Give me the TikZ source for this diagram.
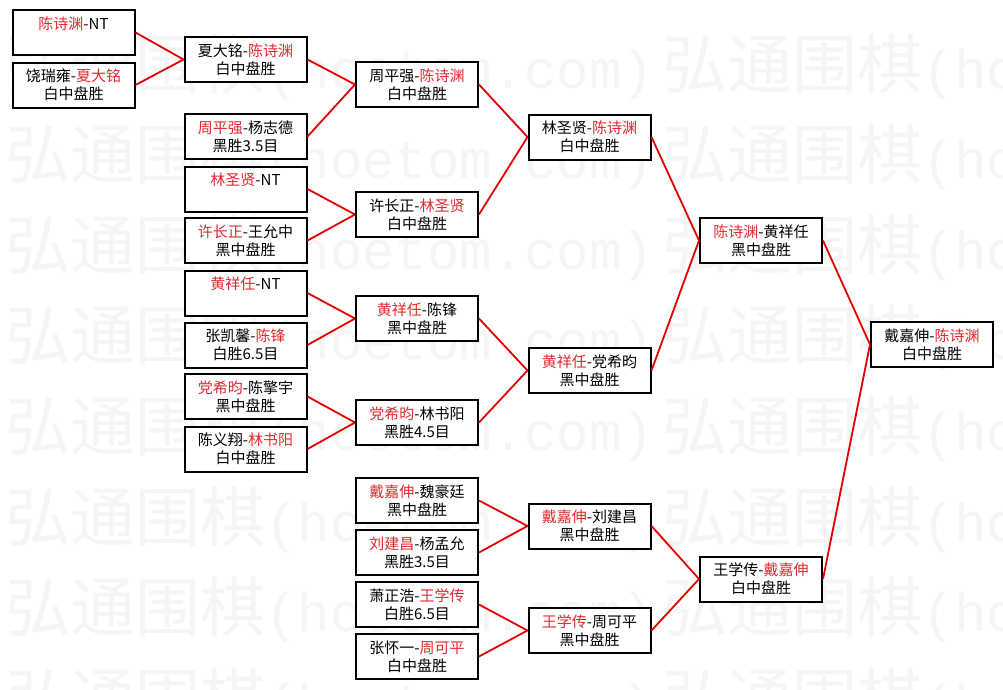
\documentclass[tikz,border=0pt]{standalone}
\usepackage{fontspec}
\newfontfamily\cjk{Noto Sans CJK SC}
\newfontfamily\wmono{Liberation Mono}
\definecolor{nred}{RGB}{228,40,48}
\definecolor{lred}{RGB}{226,0,0}
\definecolor{wmark}{RGB}{245,245,245}
\newcommand\rn[1]{\textcolor{nred}{#1}}
\newcommand\wmpart{{\cjk\fontsize{65}{65}\selectfont 弘通围棋}{\wmono\fontsize{54}{54}\selectfont (hoetom.com)}\hspace{8pt}}
\tikzset{
  mbox/.style={draw=black, line width=2pt, fill=white, minimum width=122pt,
    minimum height=45pt, inner sep=0pt, align=center,
    font=\cjk\fontsize{15}{18}\selectfont},
  link/.style={draw=lred, line width=1.8pt},
  wm/.style={anchor=base west, inner sep=0pt, text=wmark}
}
\begin{document}
\begin{tikzpicture}[x=1pt,y=-1pt]
\useasboundingbox (0,0) rectangle (1003,689);
\fill[white] (0,0) rectangle (1003,689);
\begin{scope}
\clip (0,0) rectangle (1003,689);
\foreach \k [count=\i] in {0,...,7}{
  \node[wm] (wm\i) at (5,{63+90.6*\k+25}) {\wmpart\wmpart};
}
\end{scope}
% column 1
\node[mbox] (a1) at (73.5,32.5) {\rn{陈诗渊}-NT\\\phantom{白中盘胜}};
\node[mbox] (a2) at (73.5,85) {饶瑞雍-\rn{夏大铭}\\白中盘胜};
% column 2
\node[mbox] (b1) at (245.5,59.5) {夏大铭-\rn{陈诗渊}\\白中盘胜};
\node[mbox] (b2) at (245.5,136.5) {\rn{周平强}-杨志德\\黑胜3.5目};
\node[mbox] (b3) at (245.5,189) {\rn{林圣贤}-NT\\\phantom{白中盘胜}};
\node[mbox] (b4) at (245.5,240.5) {\rn{许长正}-王允中\\黑中盘胜};
\node[mbox] (b5) at (245.5,293) {\rn{黄祥任}-NT\\\phantom{白中盘胜}};
\node[mbox] (b6) at (245.5,345) {张凯馨-\rn{陈锋}\\白胜6.5目};
\node[mbox] (b7) at (245.5,396.5) {\rn{党希昀}-陈擎宇\\黑中盘胜};
\node[mbox] (b8) at (245.5,449) {陈义翔-\rn{林书阳}\\白中盘胜};
% column 3
\node[mbox] (c1) at (417,84.5) {周平强-\rn{陈诗渊}\\白中盘胜};
\node[mbox] (c2) at (417,214.5) {许长正-\rn{林圣贤}\\白中盘胜};
\node[mbox] (c3) at (417,318.5) {\rn{黄祥任}-陈锋\\黑中盘胜};
\node[mbox] (c4) at (417,422.5) {\rn{党希昀}-林书阳\\黑胜4.5目};
\node[mbox] (c5) at (417,500.5) {\rn{戴嘉伸}-魏豪廷\\黑中盘胜};
\node[mbox] (c6) at (417,552.5) {\rn{刘建昌}-杨孟允\\黑胜3.5目};
\node[mbox] (c7) at (417,604.5) {萧正浩-\rn{王学传}\\白胜6.5目};
\node[mbox] (c8) at (417,656.5) {张怀一-\rn{周可平}\\白中盘胜};
% column 4
\node[mbox] (d1) at (589.5,137) {林圣贤-\rn{陈诗渊}\\白中盘胜};
\node[mbox] (d2) at (589.5,370.5) {\rn{黄祥任}-党希昀\\黑中盘胜};
\node[mbox] (d3) at (589.5,526) {\rn{戴嘉伸}-刘建昌\\黑中盘胜};
\node[mbox] (d4) at (589.5,630.5) {\rn{王学传}-周可平\\黑中盘胜};
% column 5
\node[mbox] (e1) at (761,240.5) {\rn{陈诗渊}-黄祥任\\黑中盘胜};
\node[mbox] (e2) at (761,579) {王学传-\rn{戴嘉伸}\\白中盘胜};
% column 6
\node[mbox] (f) at (932,344.5) {戴嘉伸-\rn{陈诗渊}\\白中盘胜};
% connectors
\foreach \ch/\pa in {a1/b1,a2/b1,b1/c1,b2/c1,b3/c2,b4/c2,b5/c3,b6/c3,b7/c4,b8/c4,
  c1/d1,c2/d1,c3/d2,c4/d2,c5/d3,c6/d3,c7/d4,c8/d4,d1/e1,d2/e1,d3/e2,d4/e2,e1/f,e2/f}{
  \draw[link] (\ch.east) -- (\pa.west);
}
\end{tikzpicture}
\end{document}
